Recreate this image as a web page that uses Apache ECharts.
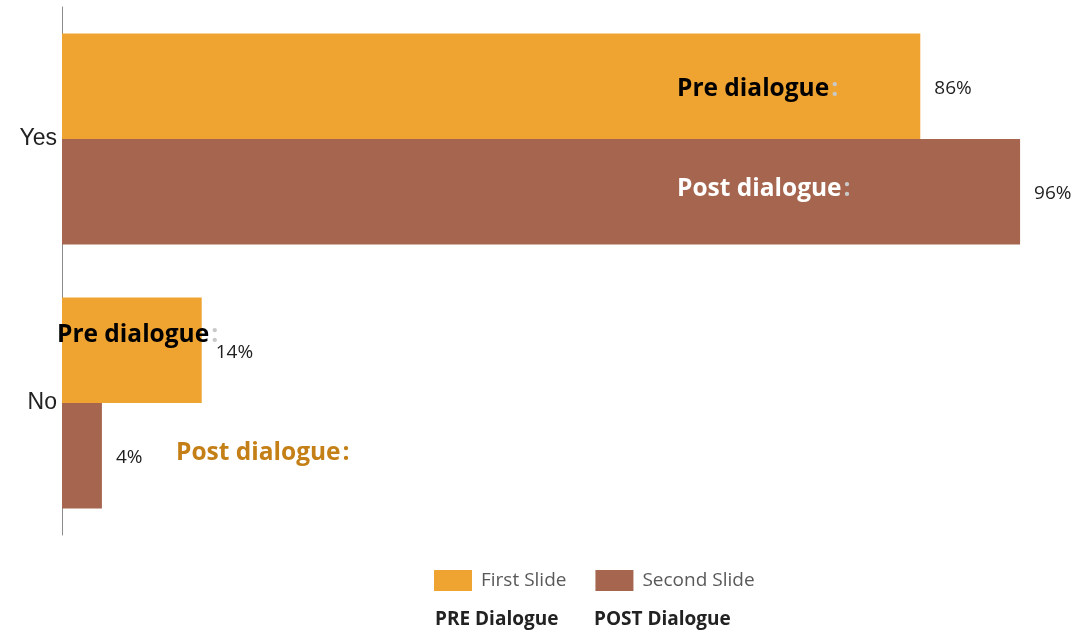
<!DOCTYPE html>
<html>
<head>
<meta charset="utf-8">
<script src="https://cdn.jsdelivr.net/npm/echarts@6/dist/echarts.min.js"></script>
<style>
  html, body { margin: 0; padding: 0; background: #fff; }
  #main { width: 1078px; height: 634px; }
</style>
</head>
<body>
<div id="main"></div>
<script>
// answers to the question, pre / post dialogue
const categories = ['Yes', 'No'];
const firstSlide = [86, 14];
const secondSlide = [96, 4];
const seriesNames = ['First Slide', 'Second Slide'];

const ORANGE = '#EFA331';
const BROWN = '#A5654E';

const valueLabel = {
  show: true,
  position: 'right',
  distance: 14,
  offset: [0, 2],
  formatter: '{c}%',
  color: '#1f1f1f',
  fontFamily: 'Open Sans',
  fontSize: 19
};

// bold notes written on top of the bars
function note(x, y, txt, color, colonColor) {
  return {
    type: 'text',
    left: x,
    top: y - 11,
    z: 100,
    style: {
      text: '{a|' + txt + '}{b|:}',
      rich: {
        a: { fontFamily: 'Open Sans', fontWeight: 'bold', fontSize: 24.5, fill: color },
        b: { fontFamily: 'Open Sans', fontWeight: 'bold', fontSize: 24.5, fill: colonColor, padding: [0, 0, 0, 2] }
      }
    }
  };
}

const chart = echarts.init(document.getElementById('main'));
chart.setOption({
  animation: false,
  grid: { left: 62, right: 18, top: 7, bottom: 99, containLabel: false },
  xAxis: {
    type: 'value',
    min: 0,
    max: 100,
    show: false
  },
  yAxis: {
    type: 'category',
    data: categories,
    inverse: true,
    axisLine: { show: true, lineStyle: { color: '#8c8c8c', width: 1 } },
    axisTick: { show: false },
    axisLabel: {
      margin: 5,
      color: '#222',
      fontFamily: 'Liberation Sans',
      fontSize: 23
    }
  },
  legend: {
    left: 429,
    top: 565,
    itemWidth: 38,
    itemHeight: 21,
    itemGap: 29,
    icon: 'rect',
    textStyle: { color: '#595959', fontFamily: 'Open Sans', fontSize: 19, padding: [0, 0, 0, 4] },
    data: seriesNames
  },
  series: [
    {
      name: seriesNames[0],
      type: 'bar',
      data: firstSlide,
      itemStyle: { color: ORANGE },
      barGap: '0%',
      barCategoryGap: '20%',
      label: valueLabel
    },
    {
      name: seriesNames[1],
      type: 'bar',
      data: secondSlide,
      itemStyle: { color: BROWN },
      label: valueLabel
    }
  ],
  graphic: [
    note(677, 88, 'Pre dialogue', '#000', '#c9c9c9'),
    note(677, 188, 'Post dialogue', '#fff', '#c9c9c9'),
    note(57, 334, 'Pre dialogue', '#000', '#c9c9c9'),
    note(176, 452, 'Post dialogue', '#C47F17', '#C47F17'),
    {
      type: 'text', left: 435, top: 610,
      style: { text: 'PRE Dialogue', fontFamily: 'Open Sans', fontWeight: 'bold', fontSize: 19, fill: '#222' }
    },
    {
      type: 'text', left: 594, top: 610,
      style: { text: 'POST Dialogue', fontFamily: 'Open Sans', fontWeight: 'bold', fontSize: 19, fill: '#222' }
    }
  ]
});
</script>
</body>
</html>
